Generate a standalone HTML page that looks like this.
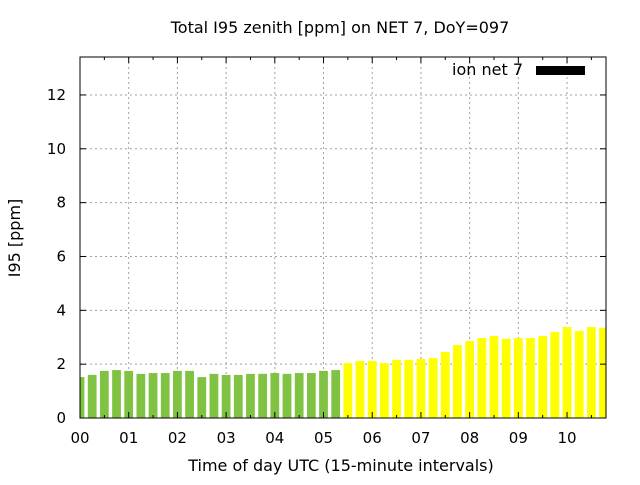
<!DOCTYPE html>
<html><head><meta charset="utf-8"><style>
body{margin:0;background:#fff;}
svg text{font-family:"DejaVu Sans","Liberation Sans",sans-serif;font-size:15px;fill:#000;}
</style></head><body>
<svg id="chart" width="640" height="480" xmlns="http://www.w3.org/2000/svg">
<text x="340" y="33" text-anchor="middle" style="font-size:16px">Total I95 zenith [ppm] on NET 7, DoY=097</text>
<g id="grid"></g>
<g id="bars"></g>
<g id="axes"></g>
<text x="341" y="471" text-anchor="middle" style="font-size:16px">Time of day UTC (15-minute intervals)</text>
<text transform="translate(20,238) rotate(-90)" text-anchor="middle" style="font-size:16px">I95 [ppm]</text>
<g>
<text x="523" y="75" text-anchor="end" style="font-size:16px">ion net 7</text>
<rect x="536" y="66" width="49" height="9" fill="#000"/>
</g>
</svg>
<script>
const greenValues=[1.52,1.60,1.75,1.78,1.75,1.64,1.67,1.67,1.75,1.75,1.52,1.64,1.60,1.60,1.64,1.64,1.67,1.64,1.67,1.67,1.75,1.78];
const yellowValues=[2.04,2.12,2.12,2.04,2.16,2.16,2.19,2.23,2.45,2.71,2.86,2.97,3.05,2.94,2.97,2.97,3.05,3.20,3.38,3.23,3.38,3.35];
const xTickLabels=["00","01","02","03","04","05","06","07","08","09","10"];
const yTickLabels=["0","2","4","6","8","10","12"];
const NS="http://www.w3.org/2000/svg";
const L=80,R=606,T=57,B=418,XMAX=10.8,YMAX=13.41;
const xs=h=>L+h/XMAX*(R-L);
const ys=v=>B-v/YMAX*(B-T);
function mk(tag,attrs,parent){const e=document.createElementNS(NS,tag);for(const k in attrs)e.setAttribute(k,attrs[k]);parent.appendChild(e);return e;}
const grid=document.getElementById('grid'),bars=document.getElementById('bars'),axes=document.getElementById('axes');
const svg=document.getElementById('chart');
const clip=mk('clipPath',{id:'pc'},svg);mk('rect',{x:L,y:T,width:R-L,height:B-T},clip);
bars.setAttribute('clip-path','url(#pc)');
xTickLabels.forEach((lab,i)=>{const x=xs(i);
 const g=mk('line',{x1:x,x2:x,y1:T,y2:B,stroke:'#a0a0a0','stroke-dasharray':'2,3'},grid);
 
 const t=mk('text',{x:x,y:443,'text-anchor':'middle'},axes);t.textContent=lab;
 
 mk('line',{x1:x,x2:x,y1:B,y2:B-6,stroke:'#000'},axes);mk('line',{x1:x,x2:x,y1:T,y2:T+6,stroke:'#000'},axes);
 const xm=xs(i+0.5);if(xm<R){mk('line',{x1:xm,x2:xm,y1:B,y2:B-3,stroke:'#000'},axes);mk('line',{x1:xm,x2:xm,y1:T,y2:T+3,stroke:'#000'},axes);}
});
yTickLabels.forEach((lab,i)=>{const v=+lab,y=ys(v);
 if(v>0){const g=mk('line',{x1:L,x2:R,y1:y,y2:y,stroke:'#a0a0a0','stroke-dasharray':'2,3'},grid);
 }
 const t=mk('text',{x:66,y:y+5,'text-anchor':'end'},axes);t.textContent=lab;
 
 mk('line',{x1:L,x2:L+6,y1:y,y2:y,stroke:'#000'},axes);mk('line',{x1:R,x2:R-6,y1:y,y2:y,stroke:'#000'},axes);
});
const bw=xs(0.18)-xs(0);
function drawBar(v,idx,color){const h=idx*0.25;
 const r=mk('rect',{x:xs(h)-bw/2,y:ys(v),width:bw,height:B-ys(v),fill:color},bars);
 }
greenValues.forEach((v,i)=>drawBar(v,i,'#80c342'));
yellowValues.forEach((v,i)=>drawBar(v,i+greenValues.length,'#ffff00'));
const f=mk('rect',{x:L,y:T,width:R-L,height:B-T,fill:'none',stroke:'#000'},axes);

</script>
</body></html>
